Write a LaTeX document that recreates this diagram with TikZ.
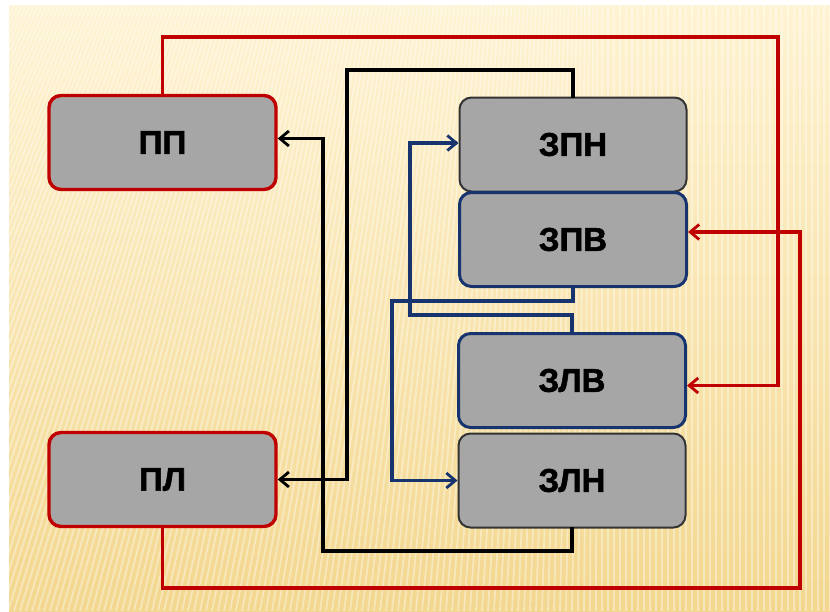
\documentclass[tikz,border=0pt]{standalone}
\usepackage{fontspec}
\setmainfont{Liberation Sans}
\newfontfamily\boxfont{Liberation Sans Bold}[FakeBold=1.6]
\usetikzlibrary{arrows.meta}
\definecolor{bgtop}{HTML}{FEF3D2}
\definecolor{bgbot}{HTML}{F3D78F}
\definecolor{boxgray}{HTML}{A6A6A6}
\definecolor{lnred}{HTML}{C00000}
\definecolor{lnblue}{HTML}{17346E}
\definecolor{lngray}{HTML}{333333}

\begin{document}
\begin{tikzpicture}[x=1pt,y=-1pt,
  block/.style={rounded corners=12pt, fill=boxgray, minimum width=227pt,
    minimum height=94pt, inner sep=0pt,
    font=\boxfont\fontsize{33}{33}\selectfont},
  redbox/.style={block, draw=lnred, line width=3.4pt},
  bluebox/.style={block, draw=lnblue, line width=3pt},
  graybox/.style={block, draw=lngray, line width=2pt},
  wire/.style={line width=3.2pt, line cap=rect},
  tip/.style={-{Straight Barb[length=9pt,width=15pt,line width=2.8pt]}},
  redwire/.style={wire, draw=lnred},
  blackwire/.style={wire, draw=black},
  bluewire/.style={wire, draw=lnblue},
]
% page and background
\useasboundingbox (0,0) rectangle (830,611);
\fill[white] (0,0) rectangle (830,611);
\shade[top color=bgtop, bottom color=bgbot] (9,5) rectangle (830,611);
\begin{scope}
  \clip (9,5) rectangle (830,611);
  \foreach \x in {-400,-394,...,830} {
    \pgfmathsetmacro{\d}{320*max(0,1-(\x+400)/1000)}
    \draw[white, opacity=0.38, line width=1.8pt] (\x,611) -- (\x+\d,5);
  }
\end{scope}

% blocks
\node[redbox] (pp) at (162.5,142.5) {ПП};
\node[redbox] (pl) at (162.5,479.5) {ПЛ};
\node[graybox] (zpn) at (573,144.5) {ЗПН};
\node[bluebox] (zpv) at (573,239.5) {ЗПВ};
\node[graybox] (zln) at (572,480.5) {ЗЛН};
\node[bluebox] (zlv) at (572,380.5) {ЗЛВ};

% corner points of the wiring
\coordinate (rtop) at (778,37);
\coordinate (rbot) at (800,588);
\coordinate (ktop) at (347,70);
\coordinate (kbot) at (323,551);
\coordinate (bone) at (392,301);
\coordinate (btwo) at (410,315);

% red lines
\draw[redwire, tip] (pp.north) |- (rtop) |- ([yshift=-5pt]zlv.east);
\draw[redwire, tip] (pl.south) |- (rbot) |- ([yshift=7.5pt]zpv.east);

% black lines
\draw[blackwire, tip] (zpn.north) |- (ktop) |- (pl.east);
\draw[blackwire, tip] (zln.south) |- (kbot) |- ([yshift=4pt]pp.east);

% blue lines
\draw[bluewire, tip] (zpv.south) |- (bone) |- (zln.west);
\draw[bluewire, tip] (zlv.north) |- (btwo) |- ([yshift=1.5pt]zpn.west);
\end{tikzpicture}
\end{document}
